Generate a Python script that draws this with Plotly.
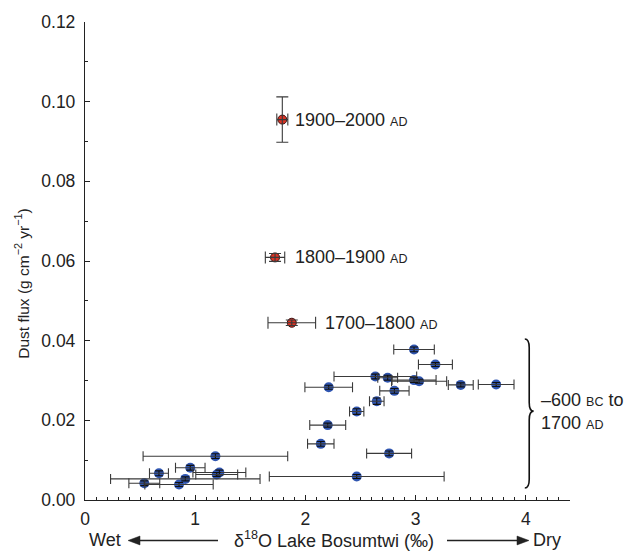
import plotly.graph_objects as go

# ---- data ----
blue_x = [2.985, 3.179, 2.634, 2.746, 2.985, 3.031, 3.409, 3.73, 2.211, 2.807, 2.647, 2.465,
          2.202, 2.139, 2.759, 2.465, 1.183, 0.955, 0.671, 1.219, 1.195, 0.910, 0.538, 0.853]
blue_y = [0.0378, 0.0340, 0.0310, 0.0307, 0.0301, 0.0298, 0.0289, 0.0290, 0.0283, 0.0274, 0.0248, 0.0222,
          0.0188, 0.0141, 0.0117, 0.0059, 0.0110, 0.0081, 0.0067, 0.0069, 0.0064, 0.0053, 0.0042, 0.0039]
blue_ex = [0.184, 0.154, 0.375, 0.09, 0.20, 0.25, 0.113, 0.162, 0.216, 0.133, 0.066, 0.065,
           0.163, 0.12, 0.204, 0.793, 0.656, 0.134, 0.086, 0.24, 0.19, 0.678, 0.14, 0.31]
blue_ey = [0.0006, 0.0005, 0.0006, 0.0006, 0.0006, 0.0005, 0.0005, 0.0005, 0.0005, 0.0006, 0.0008, 0.0007,
           0.0005, 0.0006, 0.0006, 0.0005, 0.0006, 0.0006, 0.0006, 0.0006, 0.0005, 0.0005, 0.0006, 0.0005]

red_x = [1.79, 1.724, 1.876]
red_y = [0.0955, 0.0609, 0.0445]
red_ex = [0.05, 0.088, 0.216]
red_ey = [0.0057, 0.0010, 0.0007]
red_labels = ["1900–2000", "1800–1900", "1700–1800"]
red_label_x = [1.89, 1.89, 2.16]

x_ticks = [0, 1, 2, 3, 4]
y_ticks = [0.00, 0.02, 0.04, 0.06, 0.08, 0.10, 0.12]

FONT = "Liberation Sans, Arial, sans-serif"
TXT = "#222222"
FS = 18
TFS = 17.5

fig = go.Figure()

# blue markers
fig.add_trace(go.Scatter(
    x=blue_x, y=blue_y, mode="markers",
    marker=dict(size=10, color="#2f55b0", line=dict(width=0)),
    showlegend=False, hoverinfo="skip"))
# blue error bars drawn on top
fig.add_trace(go.Scatter(
    x=blue_x, y=blue_y, mode="markers",
    marker=dict(size=1, color="rgba(0,0,0,0)"),
    error_x=dict(type="data", array=blue_ex, color="#3a3a3a", thickness=1.1, width=5),
    error_y=dict(type="data", array=blue_ey, color="#111111", thickness=1.1, width=4),
    showlegend=False, hoverinfo="skip"))

# red markers
fig.add_trace(go.Scatter(
    x=red_x, y=red_y, mode="markers",
    marker=dict(size=9, color="#d93324", line=dict(width=1, color="#3a1010")),
    showlegend=False, hoverinfo="skip"))
fig.add_trace(go.Scatter(
    x=red_x, y=red_y, mode="markers",
    marker=dict(size=1, color="rgba(0,0,0,0)"),
    error_x=dict(type="data", array=red_ex, color="#3a3a3a", thickness=1.1, width=6),
    error_y=dict(type="data", array=red_ey, color="#3a3a3a", thickness=1.1, width=6),
    showlegend=False, hoverinfo="skip"))

annotations = []
for lx, ly, lab in zip(red_label_x, red_y, red_labels):
    annotations.append(dict(
        x=lx, y=ly, xref="x", yref="y", xanchor="left", yanchor="middle",
        text=f"{lab} <span style='font-size:12.5px'>AD</span>", showarrow=False,
        font=dict(family=FONT, size=FS, color=TXT)))

# paper coords: plot area px 85..570 (x), 16..500 (y)
def px_to_paper_x(p):
    return (p - 85) / 485.0

def py_to_paper_y(p):
    return (500 - p) / 484.0

# bracket label
annotations.append(dict(
    x=px_to_paper_x(625), y=0.0223, xref="paper", yref="y", xanchor="right", yanchor="middle",
    align="left",
    text="–600 <span style='font-size:12.5px'>BC</span> to<br>1700 <span style='font-size:12.5px'>AD</span>",
    showarrow=False, font=dict(family=FONT, size=FS, color=TXT)))

# y-axis title
annotations.append(dict(x=px_to_paper_x(22), y=py_to_paper_y(280), xref="paper", yref="paper",
                        xanchor="center", yanchor="middle",
                        text="Dust flux (g cm<sup>−2</sup> yr<sup>−1</sup>)", textangle=-90,
                        showarrow=False, font=dict(family=FONT, size=15.5, color=TXT)))

# x-axis title pieces
TY_PX = 540
ty = py_to_paper_y(TY_PX)
annotations.append(dict(x=px_to_paper_x(105), y=ty, xref="paper", yref="paper", text="Wet",
                        xanchor="center", yanchor="middle",
                        showarrow=False, font=dict(family=FONT, size=FS, color=TXT)))
annotations.append(dict(x=px_to_paper_x(334), y=ty, xref="paper", yref="paper",
                        xanchor="center", yanchor="middle",
                        text="δ<sup>18</sup>O Lake Bosumtwi (‰)",
                        showarrow=False, font=dict(family=FONT, size=FS, color=TXT)))
annotations.append(dict(x=px_to_paper_x(547), y=ty, xref="paper", yref="paper", text="Dry",
                        xanchor="center", yanchor="middle",
                        showarrow=False, font=dict(family=FONT, size=FS, color=TXT)))

# arrows as shapes (paper coords)
ay = py_to_paper_y(TY_PX + 1)
hh = 4.5 / 484.0
shapes = [
    dict(type="line", xref="paper", yref="paper", x0=px_to_paper_x(218), x1=px_to_paper_x(138),
         y0=ay, y1=ay, line=dict(color=TXT, width=1.4)),
    dict(type="path", xref="paper", yref="paper", fillcolor=TXT, line=dict(color=TXT, width=0.5),
         path=f"M {px_to_paper_x(128)},{ay} L {px_to_paper_x(140)},{ay+hh} L {px_to_paper_x(140)},{ay-hh} Z"),
    dict(type="line", xref="paper", yref="paper", x0=px_to_paper_x(447), x1=px_to_paper_x(518),
         y0=ay, y1=ay, line=dict(color=TXT, width=1.4)),
    dict(type="path", xref="paper", yref="paper", fillcolor=TXT, line=dict(color=TXT, width=0.5),
         path=f"M {px_to_paper_x(529)},{ay} L {px_to_paper_x(517)},{ay+hh} L {px_to_paper_x(517)},{ay-hh} Z"),
]

# curly brace as a path in data coords
bx0, bd = 3.99, 0.04
yt, yb, ym, r = 0.0404, 0.0030, 0.0223, 0.0022
brace = (f"M {bx0},{yt} Q {bx0+bd},{yt} {bx0+bd},{yt-r} "
         f"L {bx0+bd},{ym+r} Q {bx0+bd},{ym} {bx0+2*bd},{ym} "
         f"Q {bx0+bd},{ym} {bx0+bd},{ym-r} "
         f"L {bx0+bd},{yb+r} Q {bx0+bd},{yb} {bx0},{yb}")
shapes.append(dict(type="path", path=brace, xref="x", yref="y",
                   line=dict(color="#111111", width=1.6)))

fig.update_layout(
    width=627, height=553,
    margin=dict(l=85, r=57, t=16, b=53),
    paper_bgcolor="white", plot_bgcolor="white",
    font=dict(family=FONT, size=FS, color=TXT),
    annotations=annotations,
    shapes=shapes,
    xaxis=dict(range=[0, 4.4], tickvals=x_ticks, ticktext=[str(t) for t in x_ticks],
               showgrid=False, zeroline=False, showline=True, linecolor="#222", linewidth=1.3,
               ticks="inside", ticklen=5, tickwidth=1.2, tickcolor="#222", ticklabelstandoff=3,
               minor=dict(dtick=0.1, tick0=0, ticks="inside", ticklen=3, tickwidth=1, tickcolor="#222"),
               tickfont=dict(family=FONT, size=TFS, color=TXT)),
    yaxis=dict(range=[0, 0.12], tickvals=y_ticks, ticktext=[f"{t:.2f}" for t in y_ticks],
               showgrid=False, zeroline=False, showline=True, linecolor="#222", linewidth=1.3,
               ticks="inside", ticklen=5, tickwidth=1.2, tickcolor="#222", ticklabelstandoff=5,
               minor=dict(dtick=0.01, tick0=0, ticks="inside", ticklen=3, tickwidth=1, tickcolor="#222"),
               tickfont=dict(family=FONT, size=TFS, color=TXT)),
)

fig.write_html("out.html", config={"displayModeBar": False},
               post_script="document.body.style.margin='0';document.body.style.overflow='hidden';")
